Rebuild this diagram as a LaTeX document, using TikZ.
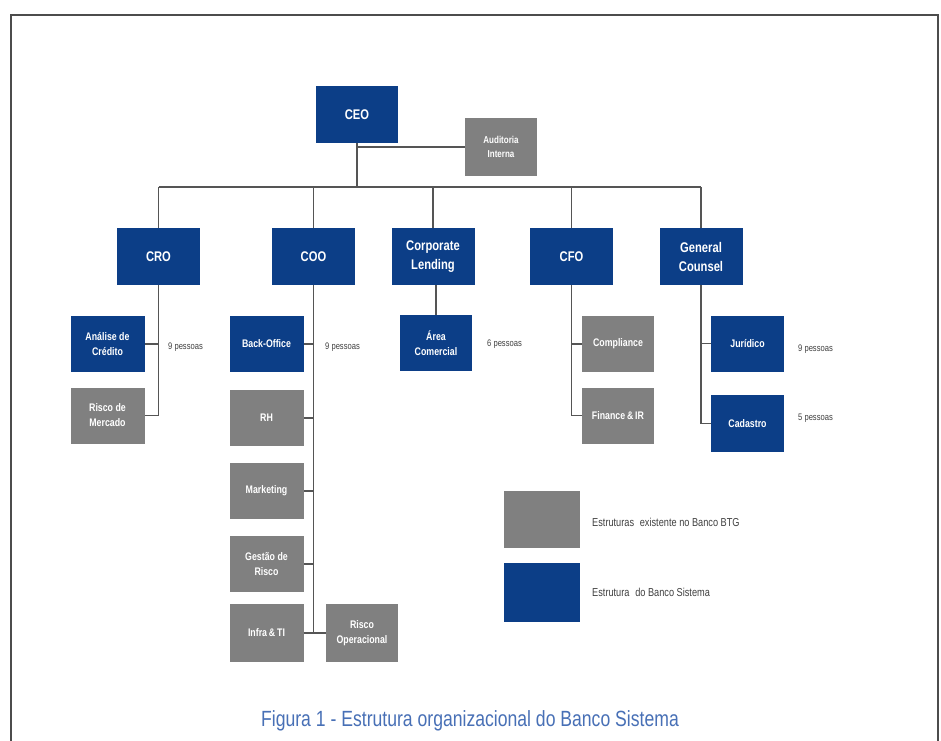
\documentclass[tikz,border=0pt]{standalone}
\usepackage{fontspec}
\setmainfont{Liberation Sans}
\newfontfamily\narrow[FakeStretch=0.8]{Liberation Sans}
\definecolor{bblue}{RGB}{12,62,135}
\definecolor{bgray}{RGB}{128,128,128}
\definecolor{capblue}{RGB}{72,112,182}
\definecolor{linec}{RGB}{85,85,85}
\begin{document}
\begin{tikzpicture}[x=1pt,y=-1pt,
  box/.style={inner sep=1pt,align=center,text=white,font=\narrow\bfseries},
  bluebox/.style={box,fill=bblue},
  graybox/.style={box,fill=bgray},
  top/.style={minimum width=83pt,minimum height=57pt,font=\narrow\bfseries\fontsize{14}{19}\selectfont},
  sub/.style={minimum width=74pt,minimum height=56pt,font=\narrow\bfseries\fontsize{11}{15}\selectfont},
  conn/.style={draw=linec,line width=1.2pt},
  note/.style={anchor=west,inner sep=0pt,text=black!75,font=\narrow\fontsize{9.5}{10}\selectfont},
  legtext/.style={anchor=west,inner sep=0pt,text=black!75,font=\narrow\fontsize{11.5}{12}\selectfont}]
\useasboundingbox (0,0) rectangle (941,740);
\fill[white] (0,0) rectangle (941,740);
\draw[line width=1.6pt,draw=black!70] (11,741) -- (11,15) -- (938,15) -- (938,741);

% top
\node[bluebox,top,minimum width=82pt] (ceo) at (357,114.5) {CEO};
\node[graybox,sub,minimum width=72pt,minimum height=58pt,font=\narrow\bfseries\fontsize{10}{14}\selectfont] (aud) at (501,147) {Auditoria\\Interna};

% second row
\node[bluebox,top] (cro) at (158.5,256.5) {CRO};
\node[bluebox,top] (coo) at (313.5,256.5) {COO};
\node[bluebox,top] (cl) at (433,256.5) {Corporate\\Lending};
\node[bluebox,top] (cfo) at (571.5,256.5) {CFO};
\node[bluebox,top] (gc) at (701,256.5) {General\\Counsel};

% CRO children
\node[bluebox,sub] (ac) at (107.5,344) {Análise de\\Crédito};
\node[graybox,sub] (rm) at (107.5,415.5) {Risco de\\Mercado};
% COO children
\node[bluebox,sub] (bo) at (266.5,344) {Back-Office};
\node[graybox,sub] (rh) at (266.5,418) {RH};
\node[graybox,sub] (mk) at (266.5,491) {Marketing};
\node[graybox,sub] (gr) at (266.5,564) {Gestão de\\Risco};
\node[graybox,sub,minimum height=58pt] (it) at (266.5,633) {Infra\,\&\,TI};
\node[graybox,sub,minimum width=72pt,minimum height=58pt] (ro) at (362,633) {Risco\\Operacional};
% Corporate Lending child
\node[bluebox,sub,minimum width=72pt] (acom) at (436,343) {Área\\Comercial};
% CFO children
\node[graybox,sub,minimum width=72pt] (comp) at (618,344) {Compliance};
\node[graybox,sub,minimum width=72pt] (fin) at (618,415.5) {Finance\,\&\,IR};
% GC children
\node[bluebox,sub,minimum width=73pt] (jur) at (747.5,343.5) {Jurídico};
\node[bluebox,sub,minimum width=73pt,minimum height=57pt] (cad) at (747.5,423.5) {Cadastro};

% notes
\node[note] (n1) at (168,347) {9 pessoas};
\node[note] (n2) at (325,347) {9 pessoas};
\node[note] (n3) at (487,344) {6 pessoas};
\node[note] (n4) at (798,349) {9 pessoas};
\node[note] (n5) at (798,418) {5 pessoas};

% legend
\node[fill=bgray,minimum width=76pt,minimum height=57pt,inner sep=0pt] (lg) at (542,519.5) {};
\node[fill=bblue,minimum width=76pt,minimum height=59pt,inner sep=0pt] (lb) at (542,592.5) {};
\node[legtext] (lgt) at (592,522) {Estruturas\enspace existente no Banco BTG};
\node[legtext] (lbt) at (592,592) {Estrutura\enspace do Banco Sistema};

% caption
\node[text=capblue,font=\narrow\fontsize{22}{24}\selectfont,inner sep=0pt] (cap) at (470,721) {Figura 1 - Estrutura organizacional do Banco Sistema};

% connectors
\coordinate (bus) at (357,187);
\draw[conn] (ceo.south) -- (bus);
\draw[conn] (ceo.south |- aud.west) -- (aud.west);
\draw[conn] (bus -| cro.north) -- (bus -| gc.north);
\foreach \n in {cro,coo,cl,cfo,gc} \draw[conn] (bus -| \n.north) -- (\n.north);

\draw[conn] (cro.south) |- (rm.east);
\draw[conn] (cro.south |- ac.east) -- (ac.east);

\draw[conn] (coo.south) -- (coo.south |- it.east);
\foreach \n in {bo,rh,mk,gr} \draw[conn] (coo.south |- \n.east) -- (\n.east);
\draw[conn] (it.east) -- (ro.west);

\draw[conn] (acom.north |- cl.south) -- (acom.north);

\draw[conn] (cfo.south) |- (fin.west);
\draw[conn] (cfo.south |- comp.west) -- (comp.west);

\draw[conn] (gc.south) |- (cad.west);
\draw[conn] (gc.south |- jur.west) -- (jur.west);
\end{tikzpicture}
\end{document}
